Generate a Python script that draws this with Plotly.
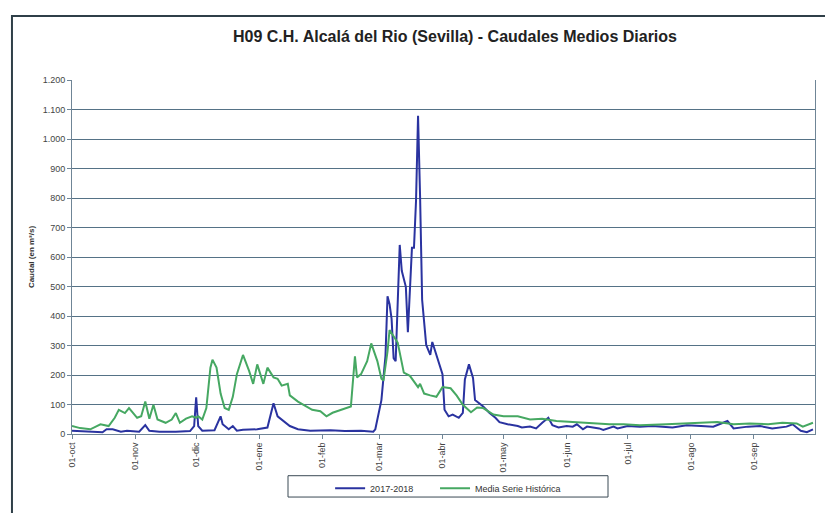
import pandas as pd
import plotly.graph_objects as go

# Hydrological year 2017-2018, daily mean flow (m3/s) at Alcalá del Río
start_date = "2017-10-01"

# Media serie histórica: day offset from 01-oct and flow
hist_days = [0, 4, 9, 14, 18, 21, 23, 26, 28, 32, 34, 36, 38, 40, 42, 46, 49, 51, 53, 56,
             59, 61, 62, 64, 66, 68, 69, 71, 73, 75, 77, 79, 81, 84, 87, 89, 91, 94, 96, 99,
             101, 103, 106, 107, 111, 114, 118, 122, 125, 128, 132, 135, 137, 139, 140, 142,
             145, 147, 150, 152, 153, 155, 156, 160, 163, 166, 170, 171, 173, 176, 179, 182,
             186, 189, 192, 196, 199, 202, 207, 212, 219, 225, 231, 238, 245, 251, 258, 264,
             271, 279, 292, 309, 317, 325, 333, 342, 349, 356, 359, 364]
hist_vals = [27, 20, 16, 33, 27, 55, 82, 71, 88, 55, 60, 110, 52, 99, 49, 38, 49, 71, 38, 52,
             60, 55, 60, 49, 88, 225, 252, 225, 137, 88, 82, 126, 203, 268, 214, 170, 236, 170, 225, 192,
             187, 164, 170, 131, 110, 99, 82, 77, 60, 72, 82, 88, 93, 263, 192, 203,
             247, 307, 247, 187, 181, 280, 352, 310, 208, 197, 159, 170, 137, 131, 126, 159,
             155, 130, 99, 74, 90, 88, 66, 60, 60, 49, 52, 44, 41, 38, 36, 33,
             33, 30, 33, 38, 41, 33, 36, 33, 38, 36, 25, 38]

# Serie 2017-2018
year_days = [0, 9, 15, 17, 20, 24, 27, 33, 36, 38, 43, 51, 58, 60, 61, 62, 64, 70, 73, 74,
             77, 79, 81, 84, 91, 96, 99, 101, 103, 106, 107, 111, 117, 127, 134, 142, 148, 149,
             150, 152, 154, 155, 156, 157, 158, 159, 161, 162, 164, 165, 167, 168, 169, 170,
             171, 172, 174, 176, 177, 179, 182, 183, 185, 187, 190, 192, 193, 195, 197, 198,
             199, 202, 205, 208, 210, 214, 219, 221, 225, 228, 231, 234, 236, 239, 243, 246,
             248, 251, 253, 256, 259, 261, 266, 268, 273, 279, 285, 295, 302, 309, 315, 318,
             322, 325, 332, 338, 344, 351, 354, 358, 361, 364]
year_vals = [11, 8, 6, 16, 16, 8, 11, 8, 30, 11, 8, 8, 10, 27, 124, 27, 11, 13, 60, 33,
             16, 27, 11, 14, 16, 22, 104, 60, 49, 33, 27, 16, 11, 13, 10, 11, 8, 16,
             49, 115, 265, 467, 440, 390, 257, 247, 641, 553, 499, 345, 631, 631, 790, 1079,
             805, 455, 302, 268, 312, 268, 203, 82, 60, 66, 55, 72, 185, 236, 190, 115,
             110, 93, 72, 55, 40, 33, 27, 22, 25, 19, 38, 55, 30, 22, 27, 25,
             33, 16, 25, 22, 19, 14, 25, 19, 27, 25, 27, 22, 30, 27, 25, 33,
             44, 19, 25, 27, 19, 25, 33, 11, 6, 16]

month_labels = ["01-oct", "01-nov", "01-dic", "01-ene", "01-feb", "01-mar",
                "01-abr", "01-may", "01-jun", "01-jul", "01-ago", "01-sep"]

t0 = pd.Timestamp(start_date)
hist_x = [t0 + pd.Timedelta(days=d) for d in hist_days]
year_x = [t0 + pd.Timedelta(days=d) for d in year_days]
month_ticks = pd.date_range(start_date, periods=12, freq="MS")

fig = go.Figure()
fig.add_trace(go.Scatter(x=year_x, y=year_vals, mode="lines", name="2017-2018",
                         line=dict(color="#2a33a0", width=2), legend="legend"))
fig.add_trace(go.Scatter(x=hist_x, y=hist_vals, mode="lines", name="Media Serie Histórica",
                         line=dict(color="#46a862", width=2), legend="legend2"))

legend_style = dict(orientation="h", xanchor="left", y=-0.112, yanchor="top",
                    bgcolor="rgba(0,0,0,0)", borderwidth=0,
                    font=dict(size=9, color="#333333"))

grid_col = "#557286"
fig.update_layout(
    width=825, height=513,
    margin=dict(l=72, r=10, t=80, b=68),
    paper_bgcolor="white", plot_bgcolor="white",
    separators=",.",
    font=dict(family="Liberation Sans, Arial, sans-serif", size=9, color="#333333"),
    title=dict(text="<b>H09 C.H. Alcalá del Rio (Sevilla) - Caudales Medios Diarios</b>",
               x=0.5515, xref="container", xanchor="center",
               y=0.93, yref="container", yanchor="middle",
               font=dict(size=16, color="#222222")),
    showlegend=True,
    legend=dict(x=0.3474, **legend_style),
    legend2=dict(x=0.4886, **legend_style),
)

fig.update_xaxes(
    type="date",
    range=[t0, t0 + pd.Timedelta(days=365)],
    tickvals=month_ticks, ticktext=month_labels, tickangle=-90,
    showgrid=False, showline=True, linecolor="#6f8596", linewidth=1,
    ticks="outside", ticklen=4, tickcolor="#6f8596",
    tickfont=dict(size=9, color="#444444"),
    zeroline=False,
)
fig.update_yaxes(
    range=[0, 1200], dtick=100, tickformat=",d",
    showgrid=True, gridcolor=grid_col, gridwidth=1,
    showline=True, linecolor="#6f8596", linewidth=1, mirror=True,
    ticks="outside", ticklen=4, tickcolor="#6f8596",
    tickfont=dict(size=9, color="#444444"),
    zeroline=False,
    title=dict(text="<b>Caudal (en m³/s)</b>", font=dict(size=8, color="#333333"), standoff=6),
)

# outer chart frame and legend box
fig.add_shape(type="rect", xref="paper", yref="paper",
              x0=-0.0808, x1=1.03, y0=-0.25, y1=1.181,
              line=dict(color="#2f3f48", width=2), fillcolor="rgba(0,0,0,0)", layer="below")
fig.add_shape(type="rect", xref="paper", yref="paper",
              x0=(288 - 72) / 743, x1=(608 - 72) / 743,
              y0=(445 - 510) / 365, y1=(445 - 488) / 365,
              line=dict(color="#3a4a55", width=1), fillcolor="rgba(0,0,0,0)")

fig.write_html("out.html")
